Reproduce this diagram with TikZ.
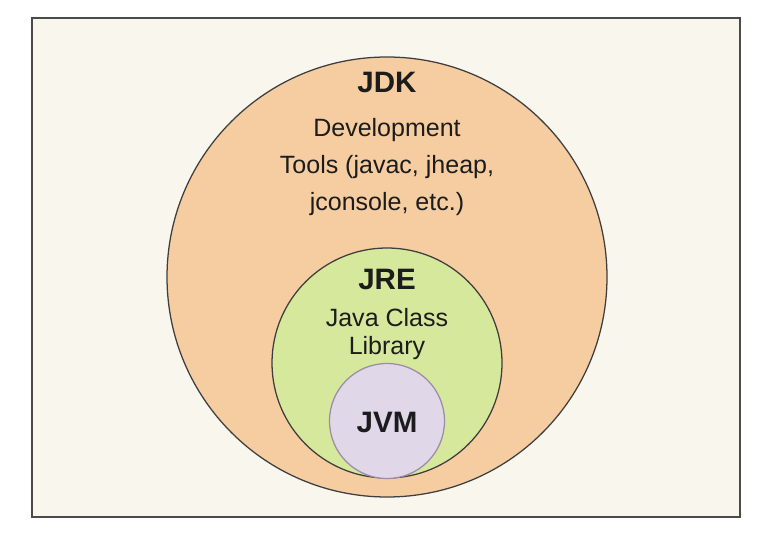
\documentclass[tikz,border=0pt]{standalone}
\usepackage{fontspec}
\setmainfont{Liberation Sans}
\usepackage{xcolor}
\usepackage{tikz}
\definecolor{paper}{HTML}{F9F6EE}
\definecolor{jdkfill}{HTML}{F6CDA0}
\definecolor{jrefill}{HTML}{D6E89C}
\definecolor{jvmfill}{HTML}{E0D8E8}
\definecolor{jvmline}{HTML}{9C8CA8}
\definecolor{frameline}{HTML}{4A4A4A}
\definecolor{ink}{HTML}{1C1C1C}

\begin{document}
\begin{tikzpicture}[
title/.style={anchor=base,text=ink,font=\bfseries\fontsize{21}{25}\selectfont},
txt/.style={anchor=base,text=ink,font=\fontsize{17.8}{21}\selectfont}]
\useasboundingbox(0,0)rectangle(19.325,13.625);
\draw[frameline,line width=1.4pt,fill=paper](0.8,0.7)rectangle(18.5,13.175);
\draw[ink!85,line width=0.9pt,fill=jdkfill](9.675,6.7)circle[radius=5.5cm]
(9.675,11.3)node(jdk)[title]{JDK}
(9.675,10.2)node(dev)[txt]{Development}
(9.675,9.275)node(tools)[txt]{Tools (javac, jheap,}
(9.675,8.35)node(jcons)[txt]{jconsole, etc.)};
\draw[ink!85,line width=0.9pt,fill=jrefill](9.675,4.55)circle[radius=2.875cm]
(9.675,6.375)node(jre)[title]{JRE}
(9.675,5.45)node(jcl)[txt]{Java Class}
(9.675,4.775)node(lib)[txt]{Library};
\draw[jvmline,line width=0.9pt,fill=jvmfill](9.675,3.1)circle[radius=1.4375cm]
(9.675,2.825)node(jvm)[title]{JVM};
\end{tikzpicture}
\end{document}
